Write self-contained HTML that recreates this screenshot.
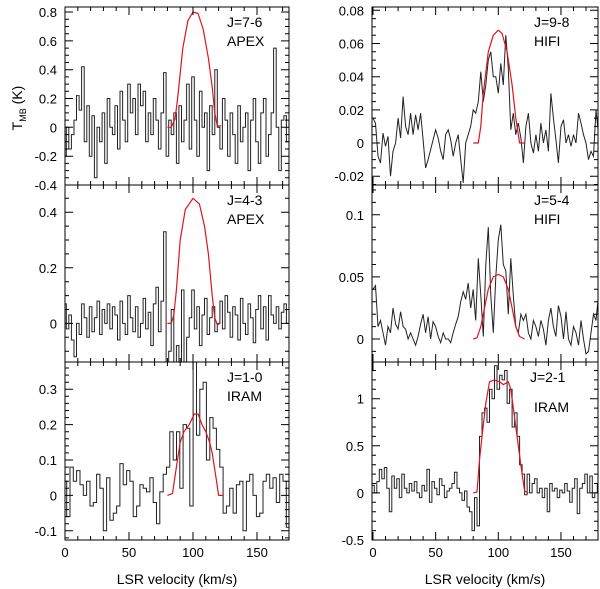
<!DOCTYPE html>
<html><head><meta charset="utf-8"><style>
html,body{margin:0;padding:0;background:#fff;}
svg{display:block;font-family:"Liberation Sans",Arial,sans-serif;}
</style></head><body>
<svg id="chart" width="600" height="589" viewBox="0 0 600 589"></svg>
<script>
// ---- data ----
const j76V0 = 0, j76Step = 2;
const j76T = [-0.2,0.0,-0.15,-0.05,0.05,0.22,0.12,0.42,-0.1,0.15,-0.2,0.08,-0.35,0.0,-0.1,0.1,-0.25,0.2,0.0,-0.05,0.15,-0.15,0.25,0.05,-0.1,0.3,0.1,0.2,-0.05,0.3,0.15,0.25,-0.1,0.1,-0.05,0.2,0.05,-0.15,0.1,0.38,-0.2,0.05,-0.05,0.1,-0.25,0.15,-0.1,0.05,0.3,-0.15,0.35,0.05,-0.2,0.25,0.0,0.1,-0.3,0.15,-0.05,0.4,0.0,-0.15,0.2,0.05,-0.2,0.1,-0.05,-0.25,0.15,-0.1,0.0,0.1,-0.3,0.05,0.2,-0.1,-0.25,0.1,0.2,-0.2,-0.05,0.1,0.55,0.0,-0.3,0.05,0.08,-0.1];
const j76FitV = [80,83,86,88,92,96,100,104,108,112,115,117,119,122];
const j76FitT = [0,0,0.06,0.2,0.55,0.74,0.8,0.79,0.68,0.48,0.28,0.1,0.01,0.01];

const j43V0 = 0, j43Step = 2;
const j43T = [0.07,-0.02,0.03,-0.06,-0.12,0.0,-0.04,0.07,0.02,-0.05,0.06,-0.03,0.02,0.08,-0.04,0.05,0.0,0.07,-0.02,0.06,0.03,-0.06,0.08,0.0,-0.04,0.1,0.02,-0.03,0.06,-0.05,0.0,0.09,-0.02,0.04,-0.08,0.07,0.13,-0.03,0.08,0.33,-0.14,-0.1,0.05,-0.14,-0.08,-0.14,0.12,-0.14,-0.05,0.02,0.12,-0.02,0.06,-0.08,0.03,0.09,-0.04,0.02,0.06,-0.03,0.0,0.08,-0.02,0.1,0.04,-0.05,0.06,0.03,-0.06,0.09,0.0,-0.04,0.07,0.02,-0.07,0.05,0.1,-0.02,0.06,-0.06,0.1,0.03,0.0,0.06,-0.02,0.04,0.07,0.0];
const j43FitV = [80,83,85,87,90,94,100,105,109,112,115,117,119,121];
const j43FitT = [0,0,0.03,0.12,0.3,0.41,0.45,0.43,0.35,0.25,0.1,0.02,-0.005,0];

const j10V0 = 0, j10Step = 2.6;
const j10T = [0.04,-0.06,0.08,0.04,0.07,0.03,0,0.04,-0.03,-0.02,0.06,0.02,-0.1,0.05,-0.07,-0.05,-0.03,0.09,0.03,0.07,0.04,-0.06,-0.03,0.03,0.02,0.01,0.05,-0.02,-0.08,0.01,0.06,0.08,0.18,0.1,0.18,0.02,0.2,0.19,-0.03,0.42,0.17,0.3,0.32,0.1,0.22,0.19,0.13,0.08,-0.05,-0.03,0.02,-0.05,0.03,0.04,-0.1,0.04,0.06,0,-0.06,-0.05,0.04,0.06,0.02,0.05,-0.02,0.06,0.04,-0.09,0.1];
const j10FitV = [80,84,87,90,93,97,101,104,107,110,113,115,118,120,124];
const j10FitT = [0,0.005,0.08,0.15,0.18,0.2,0.23,0.23,0.2,0.18,0.15,0.12,0.05,0,0];

const j98V0 = 0, j98Step = 2;
const j98T = [0.015,0.012,-0.008,-0.012,0.006,-0.002,0.004,-0.02,-0.005,0.0,0.015,0.003,0.028,0.01,0.005,0.018,0.005,0.017,0.008,0.018,0.002,-0.015,-0.01,-0.004,0.002,0.008,0.003,-0.005,-0.01,0.005,0.008,0.002,-0.008,0.0,0.005,-0.01,-0.024,0.0,0.005,0.01,0.02,0.018,0.025,0.043,0.025,0.035,0.05,0.055,0.04,0.04,0.03,0.048,0.035,0.065,0.045,0.008,0.018,0.005,0.012,0.003,-0.012,0.01,0.018,0.0,-0.006,0.005,-0.005,0.012,0.0,0.008,-0.005,0.03,0.015,0.002,-0.012,0.01,0.014,0.0,0.005,-0.002,0.005,0.0,0.018,0.012,0.005,0.0,-0.01,-0.005,-0.008,0.02,0.005];
const j98FitV = [80,84,86,88,92,96,100,103,107,111,114,117,121];
const j98FitT = [0,0,0.01,0.03,0.055,0.065,0.068,0.066,0.055,0.035,0.015,0,0];

const j54V0 = 0, j54Step = 2;
const j54T = [0.04,0.043,0.01,0.015,0.005,-0.005,0.01,0.005,0.025,0.012,0.008,0.022,0.01,0.008,0.0,0.005,0.0,-0.005,0.002,0.012,0.02,0.005,0.018,0.0,0.014,0.01,0.002,-0.003,0.005,0.0,0.0,-0.003,0.005,0.012,0.018,0.03,0.038,0.032,0.045,0.025,0.04,0.015,0.065,0.035,0.002,0.06,0.09,0.035,0.005,0.05,0.08,0.092,0.06,0.055,0.02,0.065,0.035,0.01,0.005,0.02,0.015,0.02,0.005,0.0,0.015,0.01,0.002,0.015,0.008,-0.005,0.015,0.025,0.01,0.002,0.027,0.018,0.0,0.022,0.0,-0.005,0.01,0.005,-0.005,0.015,0.0,-0.012,-0.01,0.005,0.02,0.015,0.035];
const j54FitV = [80,83,86,89,92,96,100,104,108,111,114,117,121];
const j54FitT = [0,0.001,0.01,0.025,0.04,0.05,0.052,0.05,0.04,0.025,0.01,0.002,0];

const j21V0 = 0, j21Step = 2;
const j21T = [0.08,0.0,0.12,0.25,0.15,0.27,0.05,-0.2,0.18,0.05,0.15,-0.05,0.2,0.05,0.0,0.1,0.02,0.12,0.0,-0.05,0.08,0.02,0.25,-0.1,0.12,0.05,-0.02,0.15,0.08,-0.05,0.02,0.05,0.1,0.22,0.05,0.0,-0.08,0.02,-0.15,-0.2,-0.4,-0.05,-0.35,0.6,0.85,0.9,0.75,1.1,1.0,1.35,1.1,1.25,1.2,1.3,0.95,1.1,0.7,0.85,0.6,0.3,0.2,-0.02,0.2,0.0,0.1,0.15,0.0,0.05,-0.05,0.05,-0.2,0.1,0.02,0.05,-0.05,0.03,0.0,0.1,0.02,-0.1,0.05,0.15,-0.22,0.05,0.1,0.2,0.0,0.18,-0.05,0.0,0.1];
const j21FitV = [80,83,85,87,90,93,97,101,104,108,110,113,116,119,121,124];
const j21FitT = [0,0.01,0.35,0.6,0.95,1.18,1.2,1.18,1.15,1.18,1.1,0.8,0.5,0.2,0.02,0];

// ---- layout ----
const NS = 'http://www.w3.org/2000/svg';
const svg = document.getElementById('chart');
function mk(tag, attrs, parent){
  const e = document.createElementNS(NS, tag);
  for (const k in attrs) e.setAttribute(k, attrs[k]);
  (parent||svg).appendChild(e);
  return e;
}
const panels = [
  {id:'j76', x0:65, x1:289, y0:7, y1:185, xs0:65, xsc:1.28, ymax:0.835, ymin:-0.4, maj:0.2, min:0.05, ticks:[0.8,0.6,0.4,0.2,0,-0.2,-0.4], labs:['0.8','0.6','0.4','0.2','0','-0.2','-0.4'], l1:'J=7-6', l2:'APEX', V0:j76V0, st:j76Step, T:j76T, fv:j76FitV, ft:j76FitT, hist:true, bottom:false},
  {id:'j43', x0:65, x1:289, y0:185, y1:362, xs0:65, xsc:1.28, ymax:0.498, ymin:-0.139, maj:0.2, min:0.05, ticks:[0.4,0.2,0], labs:['0.4','0.2','0'], l1:'J=4-3', l2:'APEX', V0:j43V0, st:j43Step, T:j43T, fv:j43FitV, ft:j43FitT, hist:true, bottom:false},
  {id:'j10', x0:65, x1:289, y0:362, y1:540, xs0:65, xsc:1.28, ymax:0.377, ymin:-0.126, maj:0.1, min:0.02, ticks:[0.3,0.2,0.1,0,-0.1], labs:['0.3','0.2','0.1','0','-0.1'], l1:'J=1-0', l2:'IRAM', V0:j10V0, st:j10Step, T:j10T, fv:j10FitV, ft:j10FitT, hist:true, bottom:true},
  {id:'j98', x0:372, x1:598, y0:7, y1:185, xs0:373, xsc:1.253, ymax:0.082, ymin:-0.0253, maj:0.02, min:0.005, ticks:[0.08,0.06,0.04,0.02,0,-0.02], labs:['0.08','0.06','0.04','0.02','0','-0.02'], l1:'J=9-8', l2:'HIFI', V0:j98V0, st:j98Step, T:j98T, fv:j98FitV, ft:j98FitT, hist:false, bottom:false},
  {id:'j54', x0:372, x1:598, y0:185, y1:362, xs0:373, xsc:1.253, ymax:0.124, ymin:-0.0185, maj:0.05, min:0.01, ticks:[0.1,0.05,0], labs:['0.1','0.05','0'], l1:'J=5-4', l2:'HIFI', V0:j54V0, st:j54Step, T:j54T, fv:j54FitV, ft:j54FitT, hist:false, bottom:false},
  {id:'j21', x0:372, x1:598, y0:362, y1:540, xs0:373, xsc:1.253, ymax:1.39, ymin:-0.5, maj:0.5, min:0.1, ticks:[1,0.5,0,-0.5], labs:['1','0.5','0','-0.5'], l1:'', l2:'IRAM', l1b:'J=2-1', V0:j21V0, st:j21Step, T:j21T, fv:j21FitV, ft:j21FitT, hist:true, bottom:true}
];

panels.forEach(p => {
  const g = mk('g', {});
  
  
  const X = v => p.xs0 + v * p.xsc;
  const Y = t => p.y1 - (t - p.ymin) / (p.ymax - p.ymin) * (p.y1 - p.y0);
  const clipId = 'clip-' + p.id;
  const cp = mk('clipPath', {id: clipId}, g);
  mk('rect', {x:p.x0, y:p.y0, width:p.x1-p.x0, height:p.y1-p.y0}, cp);

  // spectrum
  let d = '';
  if (p.hist) {
    p.T.forEach((t, i) => {
      const xa = X(p.V0 + (i - 0.5) * p.st), xb = X(p.V0 + (i + 0.5) * p.st), y = Y(t);
      d += (i === 0 ? 'M' + xa.toFixed(1) + ',' + y.toFixed(1) : 'L' + xa.toFixed(1) + ',' + y.toFixed(1)) + 'L' + xb.toFixed(1) + ',' + y.toFixed(1);
    });
  } else {
    p.T.forEach((t, i) => { d += (i ? 'L' : 'M') + X(p.V0 + i * p.st).toFixed(1) + ',' + Y(t).toFixed(1); });
  }
  const sp = mk('path', {d:d, fill:'none', stroke:'#222', 'stroke-width':1, 'clip-path':'url(#' + clipId + ')'}, g);
  
  

  // fit
  let fd = '';
  p.fv.forEach((v, i) => { fd += (i ? 'L' : 'M') + X(v).toFixed(1) + ',' + Y(p.ft[i]).toFixed(1); });
  const fp = mk('path', {d:fd, fill:'none', stroke:'#e0141e', 'stroke-width':1.2, 'stroke-linejoin':'round', 'clip-path':'url(#' + clipId + ')'}, g);
  
  

  // frame
  const fr = mk('rect', {x:p.x0, y:p.y0, width:p.x1-p.x0, height:p.y1-p.y0, fill:'none', stroke:'#000', 'stroke-width':1}, g);
  
  

  // x ticks
  let td = '';
  for (let v = 0; v <= 180; v += 10) {
    const x = X(v); if (x < p.x0 || x > p.x1) continue;
    const L = v % 50 === 0 ? 8 : 4;
    td += 'M' + x + ',' + p.y1 + 'v-' + L + 'M' + x + ',' + p.y0 + 'v' + L;
  }
  // y ticks
  const n0 = Math.ceil(p.ymin / p.min - 1e-6), n1 = Math.floor(p.ymax / p.min + 1e-6);
  const ratio = Math.round(p.maj / p.min);
  for (let n = n0; n <= n1; n++) {
    const y = Y(n * p.min); const L = (n % ratio === 0) ? 8 : 4;
    td += 'M' + p.x0 + ',' + y.toFixed(1) + 'h' + L + 'M' + p.x1 + ',' + y.toFixed(1) + 'h-' + L;
  }
  mk('path', {d:td, stroke:'#000', 'stroke-width':1, fill:'none'}, g);

  p.ticks.forEach((t, i) => {
    const tx = mk('text', {x:p.x0 - 8, y:Y(t) + 5, 'text-anchor':'end', 'font-size':13}, g);
    tx.textContent = p.labs[i];
    
    
  });
  if (p.bottom) {
    [0,50,100,150].forEach(v => {
      const tx = mk('text', {x:X(v), y:p.y1 + 17, 'text-anchor':'middle', 'font-size':13}, g);
      tx.textContent = String(v);
      
      
    });
    const xl = mk('text', {x:(p.x0 + p.x1) / 2, y:584, 'text-anchor':'middle', 'font-size':14}, g);
    xl.textContent = 'LSR velocity (km/s)';
    
    
  }
  // panel labels
  const lx = p.x0 + 162;
  if (p.l1) {
    const a = mk('text', {x:lx, y:p.y0 + 20, 'font-size':14}, g);
    a.textContent = p.l1;
    
    
    const b = mk('text', {x:lx, y:p.y0 + 39, 'font-size':14}, g);
    b.textContent = p.l2;
    
    
  } else {
    const a = mk('text', {x:lx - 4, y:p.y0 + 20, 'font-size':14}, g);
    a.textContent = p.l1b;
    
    
    const b = mk('text', {x:lx, y:p.y0 + 50, 'font-size':14}, g);
    b.textContent = p.l2;
    
    
  }
});

// y-axis title
const yt = mk('text', {x:0, y:0, 'font-size':14, transform:'translate(22,108) rotate(-90)', 'text-anchor':'middle'});


const t1 = mk('tspan', {}, yt); t1.textContent = 'T';
const t2 = mk('tspan', {'font-size':9, dy:4}, yt); t2.textContent = 'MB';
const t3 = mk('tspan', {dy:-4}, yt); t3.textContent = ' (K)';
</script>
</body></html>
